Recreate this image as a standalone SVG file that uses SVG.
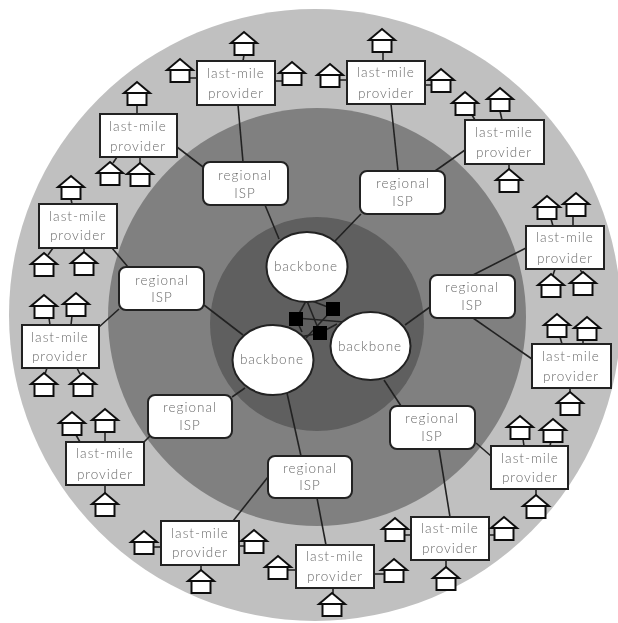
<svg xmlns="http://www.w3.org/2000/svg" width="618" height="623" viewBox="0 0 618 623">
<style>
text{font-family:"Lato","Open Sans",sans-serif;font-size:13.5px;font-weight:300;fill:#6a6a6a;text-anchor:middle;letter-spacing:1px}
.lm rect{fill:#fff;stroke:#222;stroke-width:2}
.isp rect{fill:#fff;stroke:#222;stroke-width:2}
.bb ellipse{fill:#fff;stroke:#222;stroke-width:2}
#connectors line{stroke:#222;stroke-width:1.6}
.h{fill:#fff;stroke:#111;stroke-width:2;stroke-linejoin:miter}
</style>
<defs>
<filter id="soft" x="0" y="0" width="100%" height="100%"><feGaussianBlur stdDeviation="0.45"/></filter>
<g id="house"><path class="h" d="M-9.500 11V23H9.500V11Z"/><path class="h" d="M-13 11L0 0L13 11Z"/></g>
</defs>
<rect width="618" height="623" fill="#fff"/>
<g filter="url(#soft)">
<g id="rings">
<circle cx="315" cy="315" r="306" fill="#c0c0c0"/>
<circle cx="317" cy="317" r="209" fill="#808080"/>
<circle cx="317" cy="324" r="107" fill="#5f5f5f"/>
</g>
<g id="connectors">
<line x1="238" y1="105" x2="243" y2="162"/><line x1="177" y1="147" x2="203" y2="167"/>
<line x1="112" y1="248" x2="128" y2="267"/><line x1="391" y1="104" x2="398" y2="171"/>
<line x1="465" y1="150" x2="435" y2="171"/><line x1="526" y1="248" x2="473" y2="275"/>
<line x1="473" y1="318" x2="532" y2="359"/><line x1="476" y1="443" x2="491" y2="456"/>
<line x1="439" y1="449" x2="450" y2="517"/><line x1="317" y1="498" x2="326" y2="545"/>
<line x1="268" y1="477" x2="233" y2="521"/><line x1="150" y1="436" x2="144" y2="442"/>
<line x1="119" y1="309" x2="99" y2="327"/>
<line x1="265" y1="205" x2="279" y2="239"/><line x1="361" y1="214" x2="335" y2="241"/>
<line x1="430" y1="307" x2="405" y2="325"/><line x1="401" y1="406" x2="384" y2="380"/>
<line x1="232" y1="397" x2="245" y2="388"/><line x1="301" y1="456" x2="287" y2="393"/>
<line x1="204" y1="305" x2="243" y2="335"/>
<line x1="296" y1="319" x2="306" y2="301"/><line x1="307" y1="301" x2="320" y2="333"/>
<line x1="333" y1="309" x2="312" y2="301"/><line x1="296" y1="318" x2="344" y2="322"/>
<line x1="333" y1="309" x2="306" y2="338"/><line x1="296" y1="319" x2="302" y2="332"/>
<line x1="320" y1="333" x2="300" y2="337"/><line x1="320" y1="333" x2="337" y2="324"/>
<line x1="244" y1="55" x2="243" y2="61"/><line x1="190" y1="78" x2="197" y2="78"/><line x1="275" y1="81" x2="282" y2="81"/>
<line x1="137" y1="105" x2="137" y2="114"/><line x1="117" y1="157" x2="113" y2="163"/><line x1="140" y1="157" x2="140" y2="163"/>
<line x1="71" y1="199" x2="72" y2="204"/><line x1="53" y1="248" x2="48" y2="255"/><line x1="84" y1="248" x2="84" y2="252"/>
<line x1="383" y1="52" x2="383" y2="61"/><line x1="339" y1="80" x2="347" y2="80"/><line x1="425" y1="85" x2="432" y2="85"/>
<line x1="472" y1="115" x2="475" y2="120"/><line x1="500" y1="111" x2="502" y2="120"/><line x1="509" y1="164" x2="509" y2="169"/>
<line x1="551" y1="219" x2="553" y2="226"/><line x1="573" y1="216" x2="573" y2="226"/><line x1="555" y1="269" x2="553" y2="275"/><line x1="580" y1="269" x2="582" y2="273"/>
<line x1="49" y1="318" x2="50" y2="325"/><line x1="72" y1="316" x2="71" y2="325"/><line x1="47" y1="368" x2="45" y2="374"/><line x1="77" y1="368" x2="80" y2="374"/>
<line x1="76" y1="435" x2="80" y2="442"/><line x1="105" y1="432" x2="105" y2="442"/><line x1="105" y1="485" x2="105" y2="493"/>
<line x1="154" y1="547" x2="161" y2="547"/><line x1="239" y1="546" x2="246" y2="546"/><line x1="201" y1="565" x2="201" y2="570"/>
<line x1="288" y1="570" x2="296" y2="570"/><line x1="374" y1="574" x2="385" y2="574"/><line x1="333" y1="588" x2="333" y2="594"/>
<line x1="404" y1="535" x2="411" y2="535"/><line x1="489" y1="535" x2="495" y2="535"/><line x1="446" y1="560" x2="446" y2="567"/>
<line x1="523" y1="439" x2="524" y2="446"/><line x1="551" y1="441" x2="550" y2="446"/><line x1="536" y1="489" x2="536" y2="495"/>
<line x1="560" y1="337" x2="562" y2="344"/><line x1="583" y1="340" x2="583" y2="344"/><line x1="570" y1="388" x2="570" y2="392"/>
</g>
<g id="switches" fill="#000"><rect x="289" y="312" width="14" height="14"/><rect x="326" y="302" width="14" height="14"/><rect x="313" y="326" width="14" height="14"/></g>
<g class="bb" id="backbone-1"><ellipse cx="307" cy="267" rx="40.500" ry="35"/><text x="306" y="271">backbone</text></g>
<g class="bb" id="backbone-2"><ellipse cx="273" cy="360" rx="40.500" ry="35"/><text x="272" y="364">backbone</text></g>
<g class="bb" id="backbone-3"><ellipse cx="370.500" cy="346" rx="40" ry="34"/><text x="370" y="351">backbone</text></g>
<g class="isp" id="isp-1"><rect x="203" y="162" width="85" height="43" rx="7"/><text x="245" y="180">regional</text><text x="245" y="198">ISP</text></g>
<g class="isp" id="isp-2"><rect x="119" y="267" width="85" height="43" rx="7"/><text x="162" y="285">regional</text><text x="162" y="302">ISP</text></g>
<g class="isp" id="isp-3"><rect x="360" y="171" width="85" height="43" rx="7"/><text x="403" y="188">regional</text><text x="403" y="206">ISP</text></g>
<g class="isp" id="isp-4"><rect x="430" y="275" width="85" height="43" rx="7"/><text x="472" y="292">regional</text><text x="472" y="310">ISP</text></g>
<g class="isp" id="isp-5"><rect x="148" y="395" width="84" height="43" rx="7"/><text x="190" y="412">regional</text><text x="190" y="430">ISP</text></g>
<g class="isp" id="isp-6"><rect x="268" y="456" width="84" height="42" rx="7"/><text x="310" y="473">regional</text><text x="310" y="490">ISP</text></g>
<g class="isp" id="isp-7"><rect x="390" y="406" width="85" height="43" rx="7"/><text x="432" y="423">regional</text><text x="432" y="441">ISP</text></g>
<g class="lm" id="lm-1"><rect x="197" y="61" width="78" height="44"/><text x="236" y="78">last-mile</text><text x="236" y="98">provider</text></g>
<g class="lm" id="lm-2"><rect x="100" y="114" width="77" height="43"/><text x="138" y="131">last-mile</text><text x="138" y="151">provider</text></g>
<g class="lm" id="lm-3"><rect x="39" y="204" width="78" height="44"/><text x="78" y="221">last-mile</text><text x="78" y="240">provider</text></g>
<g class="lm" id="lm-4"><rect x="347" y="61" width="78" height="43"/><text x="386" y="77">last-mile</text><text x="386" y="98">provider</text></g>
<g class="lm" id="lm-5"><rect x="465" y="120" width="79" height="44"/><text x="504" y="137">last-mile</text><text x="504" y="157">provider</text></g>
<g class="lm" id="lm-6"><rect x="526" y="226" width="78" height="43"/><text x="565" y="242">last-mile</text><text x="565" y="263">provider</text></g>
<g class="lm" id="lm-7"><rect x="22" y="325" width="77" height="43"/><text x="60" y="342">last-mile</text><text x="60" y="361">provider</text></g>
<g class="lm" id="lm-8"><rect x="66" y="442" width="78" height="43"/><text x="105" y="458">last-mile</text><text x="105" y="479">provider</text></g>
<g class="lm" id="lm-9"><rect x="161" y="521" width="78" height="44"/><text x="200" y="538">last-mile</text><text x="200" y="557">provider</text></g>
<g class="lm" id="lm-10"><rect x="296" y="545" width="78" height="43"/><text x="335" y="561">last-mile</text><text x="335" y="581">provider</text></g>
<g class="lm" id="lm-11"><rect x="411" y="517" width="78" height="43"/><text x="450" y="533">last-mile</text><text x="450" y="553">provider</text></g>
<g class="lm" id="lm-12"><rect x="491" y="446" width="77" height="43"/><text x="530" y="463">last-mile</text><text x="530" y="482">provider</text></g>
<g class="lm" id="lm-13"><rect x="532" y="344" width="79" height="44"/><text x="571" y="361">last-mile</text><text x="571" y="381">provider</text></g>
<g id="houses">
<use href="#house" x="244" y="32"/><use href="#house" x="180" y="59"/><use href="#house" x="292" y="62"/>
<use href="#house" x="137" y="82"/><use href="#house" x="110" y="162"/><use href="#house" x="140" y="163"/>
<use href="#house" x="71" y="176"/><use href="#house" x="44" y="253"/><use href="#house" x="84" y="252"/>
<use href="#house" x="382" y="29"/><use href="#house" x="330" y="64"/><use href="#house" x="441" y="69"/>
<use href="#house" x="465" y="92"/><use href="#house" x="500" y="88"/><use href="#house" x="509" y="169"/>
<use href="#house" x="547" y="196"/><use href="#house" x="576" y="193"/><use href="#house" x="551" y="274"/><use href="#house" x="583" y="272"/>
<use href="#house" x="44" y="295"/><use href="#house" x="76" y="293"/><use href="#house" x="44" y="373"/><use href="#house" x="83" y="373"/>
<use href="#house" x="72" y="412"/><use href="#house" x="105" y="409"/><use href="#house" x="105" y="493"/>
<use href="#house" x="144" y="531"/><use href="#house" x="254" y="530"/><use href="#house" x="201" y="570"/>
<use href="#house" x="278" y="556"/><use href="#house" x="394" y="559"/><use href="#house" x="332" y="593"/>
<use href="#house" x="395" y="518"/><use href="#house" x="504" y="517"/><use href="#house" x="446" y="567"/>
<use href="#house" x="520" y="416"/><use href="#house" x="553" y="419"/><use href="#house" x="536" y="495"/>
<use href="#house" x="557" y="314"/><use href="#house" x="587" y="317"/><use href="#house" x="570" y="392"/>
</g>
</g>
</svg>
